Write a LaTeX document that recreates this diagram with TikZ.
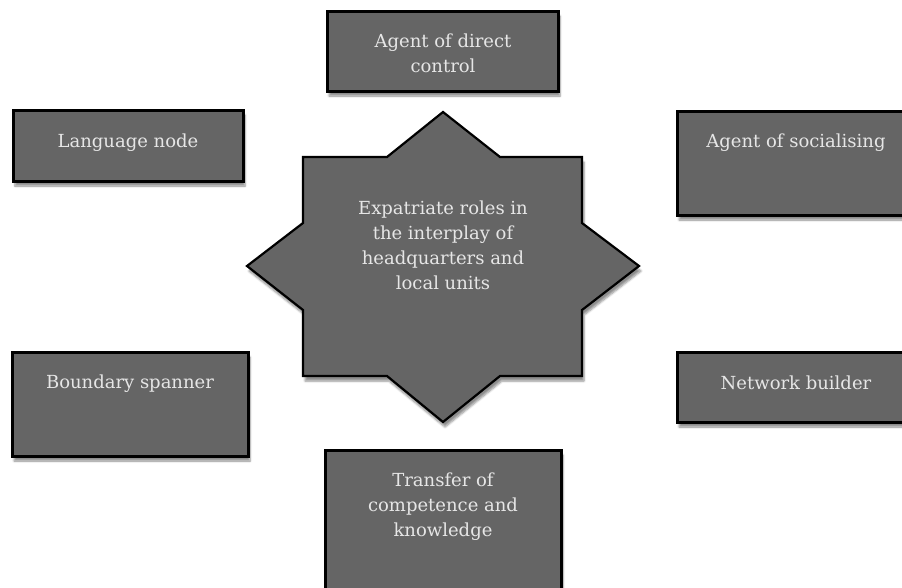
\documentclass[tikz,border=0pt]{standalone}
\usepackage{fontspec}
\setmainfont{DejaVu Serif}
\usetikzlibrary{shadows.blur}
\definecolor{boxfill}{HTML}{656565}
\definecolor{boxtext}{HTML}{E6E6E6}
\tikzset{
  roleshadow/.style={blur shadow={shadow xshift=2pt, shadow yshift=-5pt, shadow blur steps=6, shadow opacity=45}},
  rolebox/.style={draw=black, line width=3pt, fill=boxfill, roleshadow},
  roletext/.style={text=boxtext, align=center, font=\fontsize{18}{25}\selectfont, inner sep=0pt},
}
\begin{document}
\begin{tikzpicture}[x=1pt,y=-1pt]
\useasboundingbox (0,0) rectangle (902,587);
% boxes
\path[rolebox] (327,11) rectangle (558,91);
\node[roletext] (tdirect) at (443,53) {Agent of direct\\control};
\path[rolebox] (13,110) rectangle (243,181);
\node[roletext] (tlang) at (128,143) {Language node};
\path[rolebox] (677,111) rectangle (915,215);
\node[roletext] (tsocial) at (796,143) {Agent of socialising};
\path[rolebox] (12,352) rectangle (248,456);
\node[roletext] (tbound) at (130,384) {Boundary spanner};
\path[rolebox] (677,352) rectangle (915,422);
\node[roletext] (tnet) at (796,383) {Network builder};
\path[rolebox] (325,450) rectangle (561,600);
\node[roletext] (ttrans) at (443,507) {Transfer of\\competence and\\knowledge};
% star
\path[draw=black, line width=2.2pt, fill=boxfill, line join=miter, roleshadow]
  (303,157) -- (387,157) -- (443,112) -- (500,157) -- (582,157) -- (582,223) -- (639,266) -- (582,310)
  -- (582,376) -- (500,376) -- (443,422) -- (387,376) -- (303,376) -- (303,310) -- (247,266) -- (303,223) -- cycle;
\node[roletext] (tcentre) at (443,245) {Expatriate roles in\\the interplay of\\headquarters and\\local units};
\end{tikzpicture}
\end{document}
